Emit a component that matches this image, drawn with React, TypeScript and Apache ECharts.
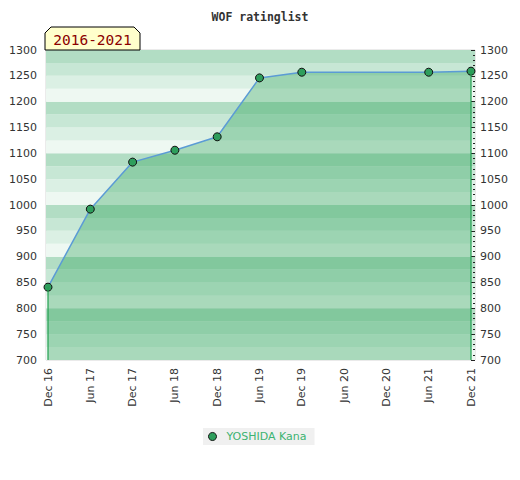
import React, { useEffect, useRef } from "react";
import * as echarts from "echarts";

const categories = ["Dec 16", "Jun 17", "Dec 17", "Jun 18", "Dec 18", "Jun 19", "Dec 19", "Jun 20", "Dec 20", "Jun 21", "Dec 21"];
const ratings: (number | null)[] = [841, 992, 1083, 1106, 1132, 1246, 1257, null, null, 1257, 1259];
const seriesName = "YOSHIDA Kana";
const periodLabel = "2016-2021";
const titleText = "WOF ratinglist";
const yMin = 700;
const yMax = 1300;
const bandColors = ["#eef8f2", "#dbf0e4", "#c7e7d5", "#b2ddc4"];

export default function App() {
  const ref = useRef<HTMLDivElement>(null);

  useEffect(() => {
    document.body.style.margin = "0";
    if (!ref.current) return;
    const chart = echarts.init(ref.current, null, { renderer: "svg" });
    const lastIdx = ratings.length - 1;
    const labelStyle = { fontFamily: "DejaVu Sans", fontSize: 11, color: "#333" };
    const plain = (v: number) => String(v);

    chart.setOption({
      animation: false,
      backgroundColor: "#ffffff",
      title: {
        text: titleText,
        left: "center",
        top: 6,
        textStyle: { fontFamily: "DejaVu Sans Mono", fontWeight: "bold", fontSize: 11.5, color: "#333" },
      },
      grid: [
        { left: 46, right: 45, top: 50, bottom: 120, show: true, borderColor: "#d6d6d6", borderWidth: 1, backgroundColor: "transparent" },
        { left: 48, right: 49, top: 50, bottom: 120 },
      ],
      xAxis: [
        { type: "value", gridIndex: 0, min: 0, max: 1, show: false },
        {
          type: "category",
          gridIndex: 1,
          data: categories,
          boundaryGap: false,
          axisLine: { show: false },
          axisTick: { show: false },
          splitLine: { show: false },
          axisLabel: { ...labelStyle, rotate: 90, margin: 8, interval: 0 },
        },
      ],
      yAxis: [
        {
          type: "value",
          gridIndex: 0,
          min: yMin,
          max: yMax,
          interval: 25,
          axisLabel: { show: false },
          axisLine: { show: false },
          axisTick: { show: false },
          splitLine: { show: false },
          splitArea: { show: true, areaStyle: { color: bandColors } },
        },
        {
          type: "value",
          gridIndex: 0,
          position: "left",
          min: yMin,
          max: yMax,
          interval: 50,
          axisLine: { show: false },
          axisTick: { show: false },
          splitLine: { show: false },
          axisLabel: { ...labelStyle, margin: 9, formatter: plain },
        },
        {
          type: "value",
          gridIndex: 0,
          position: "right",
          min: yMin,
          max: yMax,
          interval: 50,
          axisLine: { show: false },
          axisTick: { show: true, inside: true, length: 4, lineStyle: { color: "#222" } },
          minorTick: { show: true, splitNumber: 5, length: 2, lineStyle: { color: "#222" } },
          splitLine: { show: false },
          axisLabel: { ...labelStyle, margin: 5, formatter: plain },
        },
        { type: "value", gridIndex: 1, min: yMin, max: yMax, show: false },
      ],
      legend: {
        left: 203,
        top: 428,
        backgroundColor: "#f0f0f0",
        padding: [3, 8, 3, 5],
        icon: "circle",
        itemWidth: 8,
        itemHeight: 8,
        data: [{ name: seriesName, itemStyle: { color: "#2e9e5c", borderColor: "#111", borderWidth: 1 } }],
        textStyle: { fontFamily: "DejaVu Sans", fontSize: 11, color: "#3cb371", padding: [0, 0, 0, 5] },
      },
      series: [
        {
          name: seriesName,
          type: "line",
          xAxisIndex: 1,
          yAxisIndex: 3,
          data: ratings,
          connectNulls: true,
          symbol: "circle",
          symbolSize: 8,
          showSymbol: true,
          itemStyle: { color: "#2e9e5c", borderColor: "#111", borderWidth: 1 },
          lineStyle: { color: "#5b9bd5", width: 1.5 },
          areaStyle: { color: "rgba(40,160,85,0.5)", origin: "start" },
          z: 3,
        },
        {
          name: "edgeLeft",
          type: "line",
          xAxisIndex: 1,
          yAxisIndex: 3,
          data: [[0, yMin], [0, ratings[0]]],
          symbol: "none",
          silent: true,
          lineStyle: { color: "#22a050", width: 1.2 },
          z: 4,
        },
        {
          name: "edgeRight",
          type: "line",
          xAxisIndex: 1,
          yAxisIndex: 3,
          data: [[lastIdx, yMin], [lastIdx, ratings[lastIdx]]],
          symbol: "none",
          silent: true,
          lineStyle: { color: "#22a050", width: 1.2 },
          z: 4,
        },
      ],
      graphic: [
        {
          type: "polygon",
          shape: { points: [[45, 50], [45, 33], [51, 27], [134, 27], [140, 33], [140, 50]] },
          style: { fill: "#ffffcc", stroke: "#000", lineWidth: 1 },
          z: 10,
        },
        {
          type: "text",
          x: 92.5,
          y: 39.5,
          style: {
            text: periodLabel,
            fill: "#8b0000",
            font: "14.5px 'DejaVu Sans Mono'",
            align: "center",
            verticalAlign: "middle",
          },
          z: 11,
        },
      ],
    });

    return () => chart.dispose();
  }, []);

  return <div ref={ref} style={{ width: 520, height: 480 }} />;
}
